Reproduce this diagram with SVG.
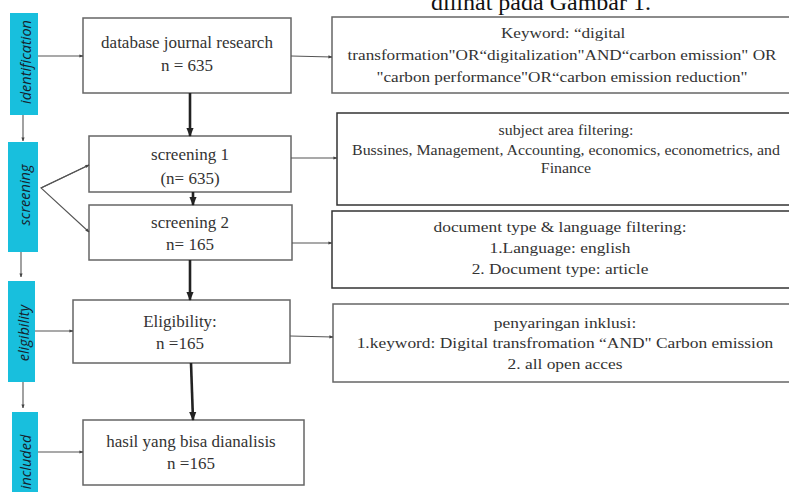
<svg xmlns="http://www.w3.org/2000/svg" width="789" height="492" viewBox="0 0 789 492">
<defs>
<style>
.stage{fill:#18bfdd}
.stxt{font-family:"Open Sans","Noto Sans",sans-serif;font-style:italic;font-size:14.5px;fill:#16222e;text-anchor:middle;dominant-baseline:central}
.box{fill:#fff;stroke:#666;stroke-width:1.5}
.boxd{fill:#fff;stroke:#333;stroke-width:1.5}
.mt{font-family:"Liberation Serif","Times New Roman",serif;font-size:17px;fill:#333;text-anchor:middle}
.rt{font-family:"Liberation Serif","Times New Roman",serif;font-size:15px;fill:#333;text-anchor:middle}
.thin{fill:none;stroke:#555;stroke-width:1.1}
.thick{fill:none;stroke:#222;stroke-width:2.6}
</style>
<marker id="ah" viewBox="0 0 10 10" refX="9" refY="5" markerWidth="4" markerHeight="4" orient="auto" markerUnits="userSpaceOnUse"><path d="M0,1 L10,5 L0,9 z" fill="#444"/></marker>
<marker id="ahb" viewBox="0 0 10 10" refX="9" refY="5" markerWidth="9" markerHeight="9" orient="auto" markerUnits="userSpaceOnUse"><path d="M0,1 L10,5 L0,9 z" fill="#222"/></marker>
</defs>
<rect width="789" height="492" fill="#fff"/>
<text x="541" y="10" style="font-family:'Liberation Serif','Times New Roman',serif;font-size:24px;fill:#111;text-anchor:middle">dilihat pada Gambar 1.</text>

<g id="stage-identification"><rect class="stage" x="10" y="13" width="28" height="102"/><text class="stxt" transform="translate(25,62) rotate(-90)">identification</text></g>
<g id="stage-screening"><rect class="stage" x="8" y="142" width="30" height="110"/><text class="stxt" transform="translate(24,195) rotate(-90)">screening</text></g>
<g id="stage-eligibility"><rect class="stage" x="8" y="281" width="27" height="101"/><text class="stxt" transform="translate(23,333) rotate(-90)">eligibility</text></g>
<g id="stage-included"><rect class="stage" x="12" y="412" width="26" height="82"/><text class="stxt" transform="translate(25,462) rotate(-90)">included</text></g>

<g id="n-database"><rect class="box" x="83" y="18" width="208" height="75"/><text class="mt" x="187" y="48">database journal research</text><text class="mt" x="187" y="71">n = 635</text></g>
<g id="n-screening1"><rect class="box" x="89" y="136" width="202" height="56"/><text class="mt" x="190" y="160">screening 1</text><text class="mt" x="190" y="184">(n= 635)</text></g>
<g id="n-screening2"><rect class="box" x="89" y="205" width="203" height="55"/><text class="mt" x="190" y="228">screening 2</text><text class="mt" x="190" y="250">n= 165</text></g>
<g id="n-eligibility"><rect class="box" x="73" y="300" width="217" height="63"/><text class="mt" x="180" y="327">Eligibility:</text><text class="mt" x="180" y="349">n =165</text></g>
<g id="n-hasil"><rect class="box" x="83" y="420" width="221" height="65"/><text class="mt" x="191" y="447">hasil yang bisa dianalisis</text><text class="mt" x="191" y="469">n =165</text></g>

<g id="n-keyword"><rect class="box" x="332" y="17" width="465" height="76"/>
<g transform="translate(562,0) scale(1.145,1)"><text class="rt" x="1" y="38">Keyword:  “digital</text><text class="rt" x="0" y="60">transformation"OR“digitalization"AND“carbon emission" OR</text><text class="rt" x="0" y="82">"carbon performance"OR“carbon emission reduction"</text></g></g>
<g id="n-subject"><rect class="boxd" x="337" y="113" width="460" height="92"/>
<g transform="translate(566,0) scale(1.135,1)"><text class="rt" x="0" y="135" style="font-size:14px">subject area filtering:</text><text class="rt" x="0" y="155" style="font-size:14px">Bussines, Management, Accounting, economics, econometrics, and</text><text class="rt" x="0" y="173" style="font-size:14px">Finance</text></g></g>
<g id="n-document"><rect class="boxd" x="332" y="211" width="465" height="77"/>
<g transform="translate(560,0) scale(1.16,1)"><text class="rt" x="0" y="232">document type &amp; language filtering:</text><text class="rt" x="0" y="253">1.Language: english</text><text class="rt" x="0" y="274">2. Document type: article</text></g></g>
<g id="n-inklusi"><rect class="box" x="333" y="304" width="464" height="78"/>
<g transform="translate(565,0) scale(1.16,1)"><text class="rt" x="0" y="328">penyaringan inklusi:</text><text class="rt" x="0" y="348">1.keyword: Digital transfromation “AND" Carbon emission</text><text class="rt" x="0" y="369">2. all open acces</text></g></g>

<g id="connectors">
<line class="thin" x1="23" y1="115" x2="23" y2="141" marker-end="url(#ah)"/>
<line class="thin" x1="21" y1="252" x2="21" y2="277" marker-end="url(#ah)"/>
<line class="thin" x1="23" y1="382" x2="23" y2="408" marker-end="url(#ah)"/>
<line class="thin" x1="38" y1="56" x2="83" y2="56" marker-end="url(#ah)"/>
<polyline class="thin" points="89,165 41,188 89,232" marker-end="url(#ah)"/>
<line class="thin" x1="41" y1="188" x2="89" y2="165" marker-end="url(#ah)"/>
<line class="thin" x1="35" y1="331" x2="73" y2="331" marker-end="url(#ah)"/>
<line class="thin" x1="38" y1="452" x2="83" y2="452" marker-end="url(#ah)"/>
<line class="thin" x1="291" y1="56" x2="332" y2="57" marker-end="url(#ah)"/>
<line class="thin" x1="291" y1="158" x2="337" y2="158" marker-end="url(#ah)"/>
<line class="thin" x1="292" y1="243" x2="332" y2="243" marker-end="url(#ah)"/>
<line class="thin" x1="290" y1="336" x2="333" y2="337" marker-end="url(#ah)"/>
<line class="thick" x1="190" y1="93" x2="190" y2="136" marker-end="url(#ahb)"/>
<line class="thick" x1="193" y1="192" x2="193" y2="205" marker-end="url(#ahb)"/>
<line class="thick" x1="190" y1="260" x2="190" y2="300" marker-end="url(#ahb)"/>
<line class="thick" x1="191" y1="363" x2="193" y2="420" marker-end="url(#ahb)"/>
</g>
</svg>
